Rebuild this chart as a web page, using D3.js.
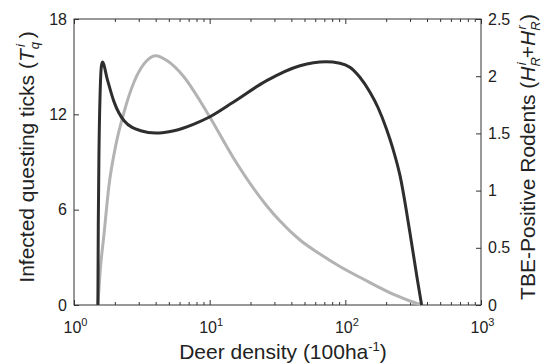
<!DOCTYPE html>
<html>
<head>
<meta charset="utf-8">
<script src="https://cdnjs.cloudflare.com/ajax/libs/d3/7.8.5/d3.min.js"></script>
<style>
  body { margin: 0; background: #fff; }
  svg { font-family: "Liberation Sans", Arial, Helvetica, sans-serif; }
  .axis path, .axis line { stroke: #333; }
  .axis text { fill: #222; font-family: "Liberation Sans", Arial, sans-serif; }
</style>
</head>
<body>
<svg id="chart" width="545" height="364"></svg>
<script>
// deer density (100 ha^-1), infected questing ticks (left axis)
const ticksDeer = [1.50, 1.51, 1.53, 1.56, 1.59, 1.62, 1.76, 1.97, 2.34, 3.10, 4.0, 5.46, 7.66, 10.05, 14.9, 26.3, 46.3, 72, 91.2, 108, 128, 152, 174, 201, 224, 253, 299, 339, 365];
const ticksVal  = [0, 5, 10, 13.5, 15.0, 15.3, 14.2, 12.8, 11.6, 10.97, 10.82, 10.97, 11.39, 11.85, 12.76, 14.12, 15.06, 15.31, 15.22, 14.96, 14.33, 13.39, 12.43, 11.08, 9.85, 8.14, 4.58, 1.64, 0];

// TBE-positive rodents (right axis)
const rodDeer = [1.50, 1.56, 1.66, 1.81, 2.03, 2.34, 2.77, 3.28, 4.0, 4.87, 6.47, 8.48, 10.05, 14.9, 26.3, 33.0, 46.3, 65.0, 91.2, 135.5, 239, 299, 365];
const rodVal  = [0, 0.3, 0.606, 1.043, 1.393, 1.687, 1.949, 2.107, 2.179, 2.135, 1.993, 1.786, 1.641, 1.29, 0.868, 0.734, 0.568, 0.446, 0.337, 0.227, 0.081, 0.035, 0];

const xMajor = [1, 10, 100, 1000];
const xExp = ["0", "1", "2", "3"];
const yLeftTicks = [0, 6, 12, 18];
const yRightTicks = [0, 0.5, 1, 1.5, 2, 2.5];

const svg = d3.select("#chart");
const m = {left: 74, right: 481, top: 19, bottom: 305};

const x = d3.scaleLog().domain([1, 1000]).range([m.left, m.right]);
const yL = d3.scaleLinear().domain([0, 18]).range([m.bottom, m.top]);
const yR = d3.scaleLinear().domain([0, 2.5]).range([m.bottom, m.top]);

const minors = [];
xMajor.slice(0, 3).forEach(d => { for (let k = 2; k <= 9; k++) minors.push(d * k); });

// frame
svg.append("rect")
  .attr("x", m.left).attr("y", m.top)
  .attr("width", m.right - m.left).attr("height", m.bottom - m.top)
  .attr("fill", "none").attr("stroke", "#333").attr("stroke-width", 1);

// bottom axis
svg.append("g").attr("class", "axis").attr("transform", `translate(0,${m.bottom})`)
  .call(d3.axisBottom(x).tickValues(minors).tickSize(-3).tickFormat(""));
const gB2 = svg.append("g").attr("class", "axis").attr("transform", `translate(0,${m.bottom})`);
gB2.call(d3.axisBottom(x).tickValues(xMajor).tickSize(-5).tickPadding(13).tickFormat(""));
gB2.selectAll(".tick text").each(function(d, i) {
  const t = d3.select(this);
  t.append("tspan").text("10");
  t.append("tspan").attr("dy", -7).attr("font-size", 11).text(xExp[i]);
});
gB2.selectAll(".tick text").attr("dx", 1).attr("y", 28).attr("dy", 0).attr("font-size", 16);

// top axis
svg.append("g").attr("class", "axis").attr("transform", `translate(0,${m.top})`)
  .call(d3.axisTop(x).tickValues(minors).tickSize(-3).tickFormat(""));
svg.append("g").attr("class", "axis").attr("transform", `translate(0,${m.top})`)
  .call(d3.axisTop(x).tickValues(xMajor).tickSize(-5).tickFormat(""));

// left axis
svg.append("g").attr("class", "axis").attr("transform", `translate(${m.left},0)`)
  .call(d3.axisLeft(yL).tickValues(yLeftTicks).tickSize(-5).tickPadding(7))
  .selectAll("text").attr("font-size", 16);

// right axis
svg.append("g").attr("class", "axis").attr("transform", `translate(${m.right},0)`)
  .call(d3.axisRight(yR).tickValues(yRightTicks).tickSize(-5).tickPadding(7).tickFormat(d3.format("")))
  .selectAll("text").attr("font-size", 16);

svg.selectAll(".axis .domain").remove();

// curves
const lineL = d3.line().x((d, i) => x(ticksDeer[i])).y(d => yL(d)).curve(d3.curveMonotoneX);
const lineR = d3.line().x((d, i) => x(rodDeer[i])).y(d => yR(d)).curve(d3.curveMonotoneX);

svg.append("path").datum(rodVal).attr("d", lineR)
  .attr("fill", "none").attr("stroke", "#b3b3b3").attr("stroke-width", 3);
svg.append("path").datum(ticksVal).attr("d", lineL)
  .attr("fill", "none").attr("stroke", "#2e2e2e").attr("stroke-width", 3);

// axis titles
const xt = svg.append("text").attr("x", 283).attr("y", 359)
  .attr("text-anchor", "middle").attr("font-size", 21).attr("fill", "#222");
xt.append("tspan").text("Deer density (100ha");
xt.append("tspan").attr("dy", -8).attr("font-size", 13).text("-1");
xt.append("tspan").attr("dy", 8).text(")");

const yt = svg.append("text").attr("transform", "translate(34,157) rotate(-90)")
  .attr("text-anchor", "middle").attr("font-size", 21).attr("fill", "#222");
yt.append("tspan").text("Infected questing ticks (");
yt.append("tspan").attr("font-style", "italic").text("T");
yt.append("tspan").attr("font-style", "italic").attr("font-size", 13).attr("dy", 5).text("q");
yt.append("tspan").attr("font-style", "italic").attr("font-size", 13).attr("dx", -5).attr("dy", -14).text("i");
yt.append("tspan").attr("dy", 9).text(" )");

const yr = svg.append("text").attr("transform", "translate(535,157) rotate(-90)")
  .attr("text-anchor", "middle").attr("font-size", 21).attr("fill", "#222");
yr.append("tspan").text("TBE-Positive Rodents (");
yr.append("tspan").attr("font-style", "italic").text("H");
yr.append("tspan").attr("font-style", "italic").attr("font-size", 13).attr("dy", 5).text("R");
yr.append("tspan").attr("font-style", "italic").attr("font-size", 13).attr("dx", -8).attr("dy", -14).text("i");
yr.append("tspan").attr("dx", 4).attr("dy", 9).text("+");
yr.append("tspan").attr("font-style", "italic").text("H");
yr.append("tspan").attr("font-style", "italic").attr("font-size", 13).attr("dy", 5).text("R");
yr.append("tspan").attr("font-style", "italic").attr("font-size", 13).attr("dx", -8).attr("dy", -14).text("r");
yr.append("tspan").attr("dx", 4).attr("dy", 9).text(")");
</script>
</body>
</html>
